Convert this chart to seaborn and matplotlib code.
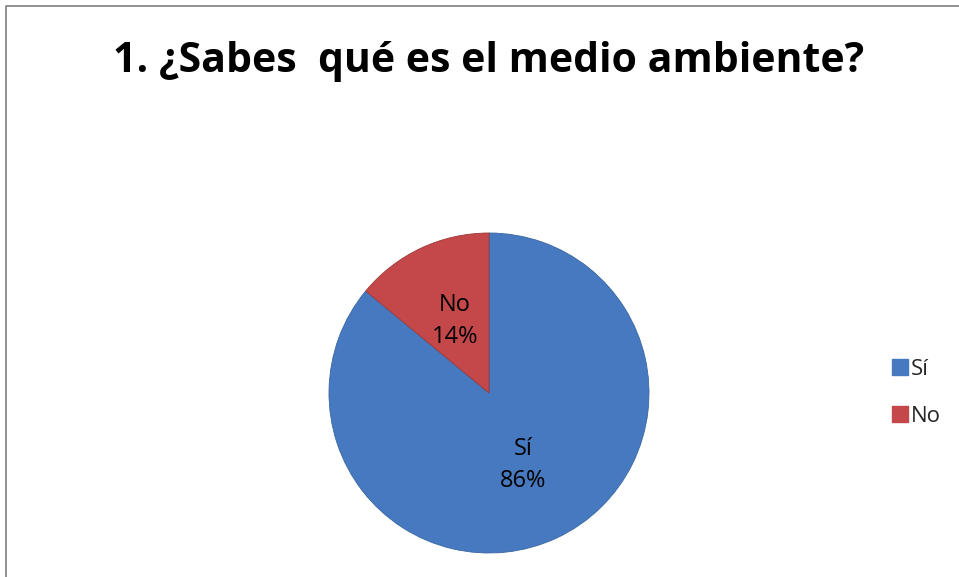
import seaborn as sns
import matplotlib.pyplot as plt
import numpy as np
from matplotlib.lines import Line2D

# Datos de la encuesta
categorias = ['Sí', 'No']
porcentajes = [86, 14]
colores = ['#4679C0', '#C4484A']
titulo = '1. ¿Sabes  qué es el medio ambiente?'

sns.set_theme(style='white')
plt.rcParams['font.family'] = ['Open Sans', 'DejaVu Sans']

W, H = 959, 577
fig = plt.figure(figsize=(W / 100, H / 100), dpi=100)
ax = fig.add_axes([0, 0, 1, 1])

# Borde del gráfico (izquierda y arriba)
ax.plot([5.5, 5.5, W], [0, H - 5.5, H - 5.5], color='#888888', lw=1.3)

# Pastel
cx, cy, r = 489, H - 393, 160
wedges, textos = ax.pie(
    porcentajes, colors=colores, startangle=90, counterclock=False,
    center=(cx, cy), radius=r, frame=True,
    wedgeprops=dict(edgecolor='#3a66a0', linewidth=0.6),
)
wedges[1].set_edgecolor('#9c3a38')
ax.set_xlim(0, W)
ax.set_ylim(0, H)
ax.set_aspect('equal')
ax.axis('off')

# Etiquetas dentro de las porciones
for w, cat, p in zip(wedges, categorias, porcentajes):
    ang = np.deg2rad((w.theta1 + w.theta2) / 2)
    d = 0.5 * r
    ax.text(cx + d * np.cos(ang), cy + d * np.sin(ang), f'{cat}\n{p}%',
            ha='center', va='center', fontsize=17, color='black',
            linespacing=1.45)

# Título
fig.text(489 / W, 1 - 62 / H, titulo, ha='center', va='center',
         fontsize=29.5, fontweight='bold', color='black')

# Leyenda
handles = [Line2D([], [], marker='s', linestyle='none', markersize=11,
                  markerfacecolor=c, markeredgecolor=c) for c in colores]
fig.legend(handles, categorias, loc='center left',
           bbox_to_anchor=(879 / W, 1 - 393 / H), frameon=False,
           fontsize=16, handletextpad=0.05, labelspacing=1.15,
           handlelength=0.9, borderpad=0)

fig.savefig('out.png', dpi=100)
